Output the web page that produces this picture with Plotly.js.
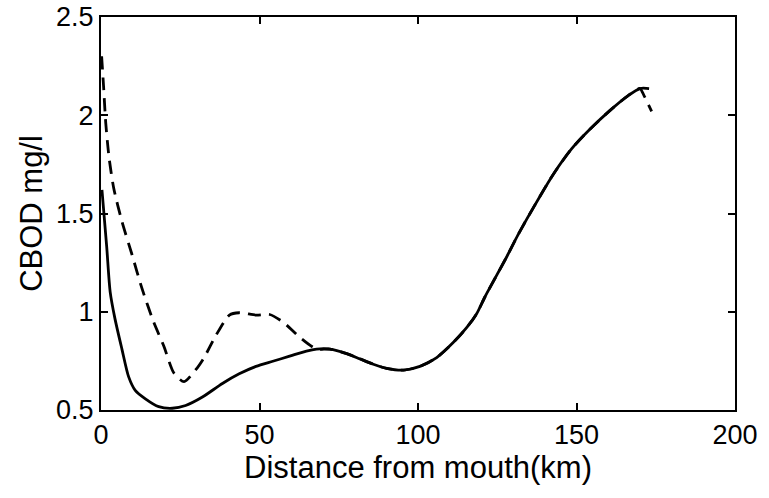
<!DOCTYPE html>
<html>
<head>
<meta charset="utf-8">
<script src="https://cdn.plot.ly/plotly-3.0.1.min.js"></script>
<style>html,body{margin:0;padding:0;background:#fff;}#chart{width:769px;height:498px;}</style>
</head>
<body>
<div id="chart"></div>
<script>
// Solid curve
const solidX = [0.3, 1.8, 2.9, 4.4, 6.6, 8.7, 10.8, 14, 18.2, 22.5, 26.7, 32, 38.3, 43.6, 48.9, 54.2, 59.5, 64.8, 68, 72.2, 77.5, 81.7, 85.9, 90.1, 95.4, 100.6, 105.9, 111.1, 115.4, 118.5, 121.1, 124.8, 128, 131.5, 136.4, 142.7, 148.5, 154.3, 160.6, 166.3, 170, 172.9];
const solidY = [1.62, 1.33, 1.10, 0.965, 0.81, 0.67, 0.60, 0.557, 0.517, 0.509, 0.523, 0.566, 0.635, 0.684, 0.722, 0.748, 0.774, 0.80, 0.81, 0.81, 0.787, 0.76, 0.733, 0.712, 0.703, 0.722, 0.767, 0.843, 0.92, 0.99, 1.075, 1.185, 1.28, 1.39, 1.53, 1.70, 1.83, 1.93, 2.025, 2.10, 2.136, 2.136];
// Dashed curve
const dashX = [0.2, 0.8, 1.5, 2.5, 4, 6.6, 9.7, 12.9, 16.6, 19.8, 23, 26.2, 29.9, 32.5, 36.2, 40.5, 43.6, 48.9, 53.2, 57.4, 62.7, 68, 72.2, 77.5, 81.7, 85.9, 90.1, 95.4, 100.6, 105.9, 111.1, 115.4, 118.5, 121.1, 124.8, 128, 131.5, 136.4, 142.7, 148.5, 154.3, 160.6, 166.3, 170, 171.3, 173.7];
const dashY = [2.3, 2.15, 1.96, 1.79, 1.63, 1.46, 1.295, 1.12, 0.948, 0.826, 0.688, 0.644, 0.705, 0.766, 0.878, 0.983, 0.995, 0.983, 0.986, 0.948, 0.87, 0.81, 0.81, 0.787, 0.76, 0.733, 0.712, 0.703, 0.722, 0.767, 0.843, 0.92, 0.99, 1.075, 1.185, 1.28, 1.39, 1.53, 1.70, 1.83, 1.93, 2.025, 2.10, 2.136, 2.10, 2.02];

const xTicks = [0, 50, 100, 150, 200];
const yTicks = [0.5, 1, 1.5, 2, 2.5];
const xTitle = 'Distance from mouth(km)';
const yTitle = 'CBOD mg/l';

const FONT = 'Liberation Sans, Arial, Helvetica, sans-serif';

const traces = [
  {x: dashX, y: dashY, mode: 'lines', line: {color: '#000', width: 2.8, dash: '13px,8px', shape: 'spline', smoothing: 0.7}, showlegend: false, hoverinfo: 'skip'},
  {x: solidX, y: solidY, mode: 'lines', line: {color: '#000', width: 2.8, shape: 'spline', smoothing: 0.7}, showlegend: false, hoverinfo: 'skip'}
];

const axisCommon = {
  showgrid: false, zeroline: false, showline: true, linecolor: '#000', linewidth: 2,
  mirror: 'ticks', ticks: 'inside', ticklen: 7, tickwidth: 2, tickcolor: '#000',
  tickfont: {family: FONT, size: 27, color: '#000'}
};

const layout = {
  width: 769, height: 498,
  margin: {l: 101, r: 34, t: 17, b: 88},
  paper_bgcolor: '#fff', plot_bgcolor: '#fff',
  font: {family: FONT, color: '#000'},
  xaxis: Object.assign({}, axisCommon, {
    range: [0, 200], tickmode: 'array', tickvals: xTicks, ticktext: xTicks.map(String),
    title: {text: xTitle, font: {family: FONT, size: 31, color: '#000'}, standoff: 3}
  }),
  yaxis: Object.assign({}, axisCommon, {
    range: [0.5, 2.5], tickmode: 'array', tickvals: yTicks, ticktext: yTicks.map(String),
    title: {text: yTitle, font: {family: FONT, size: 31, color: '#000'}, standoff: 4}
  })
};

Plotly.newPlot('chart', traces, layout, {staticPlot: true, displayModeBar: false});
</script>
</body>
</html>
